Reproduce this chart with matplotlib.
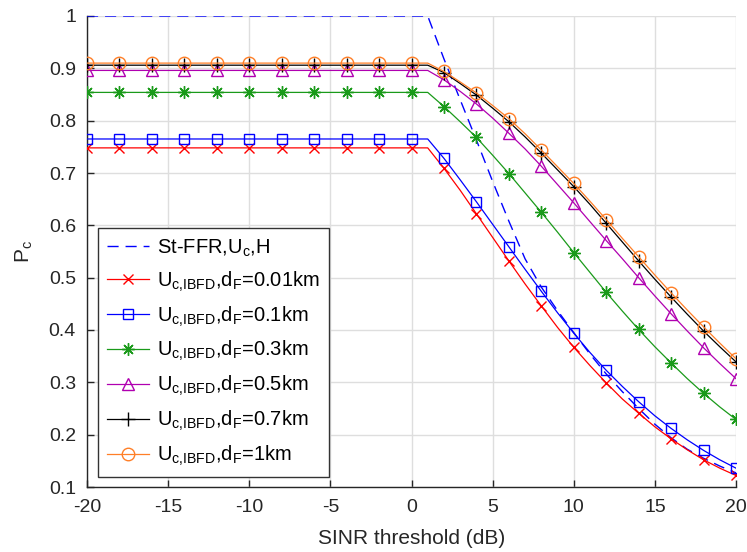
import numpy as np
import matplotlib
matplotlib.use("Agg")
import matplotlib.pyplot as plt

plt.rcParams['font.family'] = ['Liberation Sans', 'DejaVu Sans']
plt.rcParams['mathtext.default'] = 'regular'
plt.rcParams['axes.unicode_minus'] = False

# SINR threshold grid (dB); curves are sampled every 1 dB, markers every 2 dB
snr_db = list(range(-20, 21))

# Coverage probability values for x = 1..20 dB; below 1 dB each curve is flat
st_ffr = [1.0, 0.918, 0.840, 0.763, 0.684, 0.608, 0.536, 0.482, 0.437, 0.395,
          0.354, 0.316, 0.282, 0.250, 0.220, 0.194, 0.172, 0.155, 0.140, 0.127]
pc_001 = [0.748, 0.709, 0.667, 0.622, 0.577, 0.532, 0.488, 0.446, 0.405, 0.367,
          0.332, 0.299, 0.268, 0.241, 0.215, 0.192, 0.171, 0.152, 0.136, 0.122]
pc_01 = [0.765, 0.728, 0.687, 0.645, 0.602, 0.559, 0.516, 0.474, 0.433, 0.394,
         0.357, 0.323, 0.292, 0.263, 0.236, 0.212, 0.190, 0.170, 0.152, 0.136]
pc_03 = [0.854, 0.827, 0.798, 0.768, 0.734, 0.699, 0.662, 0.625, 0.587, 0.548,
         0.510, 0.472, 0.436, 0.401, 0.368, 0.337, 0.307, 0.279, 0.253, 0.229]
pc_05 = [0.896, 0.878, 0.856, 0.832, 0.805, 0.776, 0.746, 0.713, 0.678, 0.643,
         0.607, 0.571, 0.536, 0.500, 0.465, 0.431, 0.398, 0.366, 0.336, 0.307]
pc_07 = [0.906, 0.892, 0.871, 0.849, 0.824, 0.798, 0.769, 0.738, 0.706, 0.674,
         0.640, 0.604, 0.568, 0.532, 0.497, 0.463, 0.430, 0.398, 0.368, 0.339]
pc_1 = [0.910, 0.894, 0.874, 0.853, 0.829, 0.804, 0.775, 0.744, 0.712, 0.680,
        0.646, 0.611, 0.575, 0.540, 0.505, 0.471, 0.438, 0.406, 0.375, 0.345]


def full_curve(vals):
    # plateau value repeated for -20..0 dB, then the sampled values from 1 dB
    return [vals[0]] * 21 + vals


labels = [
    r'St-FFR,U$_{c}$,H',
    r'U$_{c{,}IBFD}$,d$_{F}$=0.01km',
    r'U$_{c{,}IBFD}$,d$_{F}$=0.1km',
    r'U$_{c{,}IBFD}$,d$_{F}$=0.3km',
    r'U$_{c{,}IBFD}$,d$_{F}$=0.5km',
    r'U$_{c{,}IBFD}$,d$_{F}$=0.7km',
    r'U$_{c{,}IBFD}$,d$_{F}$=1km',
]
colors = ['#0000ff', '#ff0000', '#0000ff', '#1a9a1a', '#b000b0', '#000000', '#ff7f27']
markers = [None, 'x', 's', (8, 2, 0), '^', '+', 'o']
sizes = [0, 7, 7.5, 9, 8.5, 10, 9]
series = [st_ffr, pc_001, pc_01, pc_03, pc_05, pc_07, pc_1]

fig = plt.figure(figsize=(7.47, 5.52), dpi=100)
ax = fig.add_axes([87 / 747, (552 - 487) / 552, (736 - 87) / 747, (487 - 16) / 552])

for vals, lab, col, mk, ms in zip(series, labels, colors, markers, sizes):
    y = full_curve(vals)
    if mk is None:
        ax.plot(snr_db, y, color=col, lw=1.0, ls=(0, (8, 5)), label=lab, zorder=3)
    else:
        ax.plot(snr_db, y, color=col, lw=0.9, marker=mk, markevery=2, ms=ms,
                mfc='none', mec=col, mew=1.0, label=lab, zorder=3)

ax.set_xlim(-20, 20)
ax.set_ylim(0.1, 1.0)
ax.set_xticks(range(-20, 21, 5))
ax.set_yticks(np.round(np.arange(0.1, 1.01, 0.1), 1))
ax.set_yticklabels(['0.1', '0.2', '0.3', '0.4', '0.5', '0.6', '0.7', '0.8', '0.9', '1'])

ax.grid(True, color='#dedede', lw=1.0, zorder=0)
ax.set_axisbelow(True)
for s in ['top', 'right']:
    ax.spines[s].set_visible(False)
for s in ['left', 'bottom']:
    ax.spines[s].set_color('#262626')
    ax.spines[s].set_linewidth(1.0)
ax.tick_params(direction='in', length=5, width=1.0, colors='#262626',
               labelsize=14)
ax.tick_params(axis='x', pad=9)
ax.tick_params(axis='y', pad=8)

ax.set_xlabel('SINR threshold (dB)', fontsize=15, color='#262626', labelpad=9)
ax.set_ylabel(r'P$_{c}$', fontsize=15, color='#262626', labelpad=10)

leg = ax.legend(loc='lower left', bbox_to_anchor=(0.017, 0.021), borderaxespad=0,
                fontsize=14.5, frameon=True, fancybox=False, edgecolor='#333333',
                framealpha=1.0, handlelength=2.1, handletextpad=0.4,
                labelspacing=0.53, borderpad=0.45)
leg.get_frame().set_linewidth(1.0)

fig.savefig('out.png', dpi=100, facecolor='white')
